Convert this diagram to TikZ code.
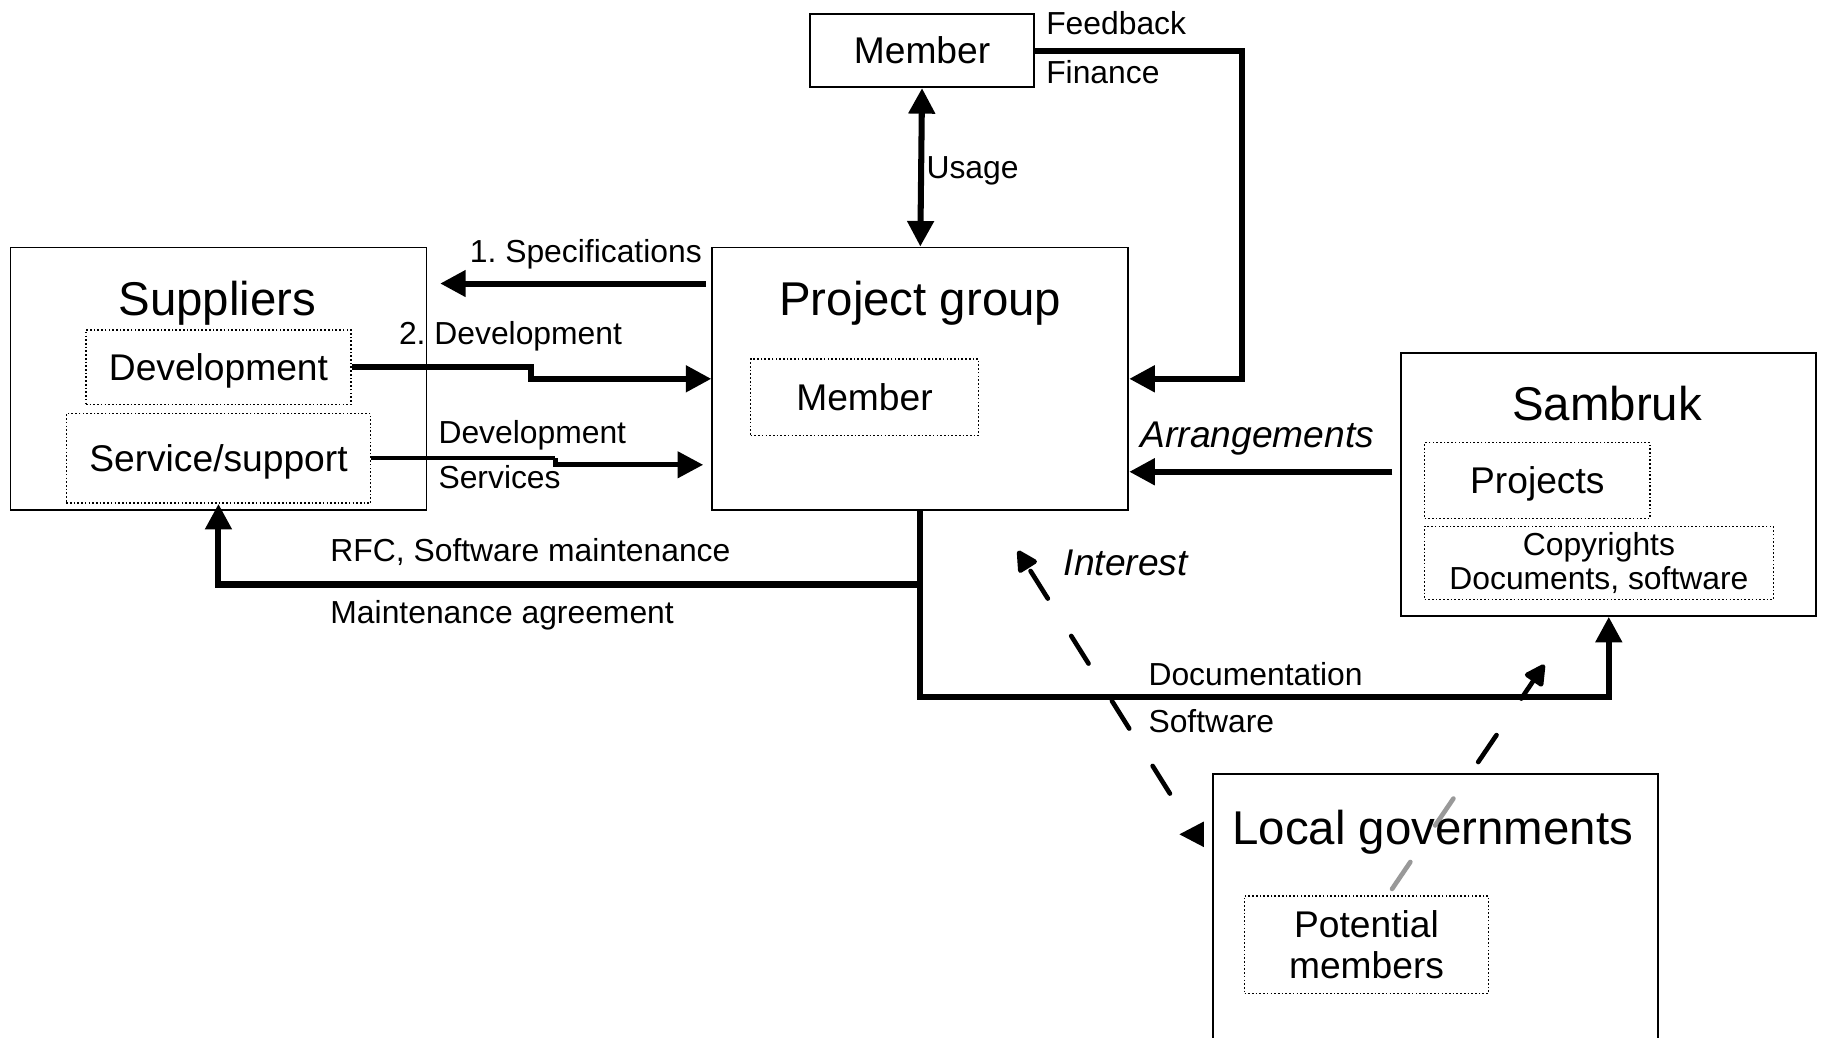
\documentclass[tikz,border=0pt]{standalone}
\usepackage{fontspec}
\setmainfont{Liberation Sans}
\usetikzlibrary{arrows.meta,backgrounds}
\frenchspacing

\newcommand\titlefont{\fontsize{20.4}{24}\selectfont}
\newcommand\boxfont{\fontsize{16}{19}\selectfont}
\newcommand\lblfont{\fontsize{13.7}{16}\selectfont}

\begin{document}
\begin{tikzpicture}[x=0.5pt, y=-0.5pt,
    >={Triangle[length=11pt,width=11pt]},
    box/.style={draw, line width=0.8pt, inner sep=0pt},
    dotframe/.style={draw, line width=0.6pt, dash pattern=on 0.7pt off 0.9pt, inner sep=0pt},
    dotbox/.style={dotframe, font=\boxfont, text height=11.5pt, text depth=0pt},
    title/.style={font=\titlefont, inner sep=0pt, text height=14.6pt, text depth=0pt},
    lbl/.style={font=\lblfont, anchor=west, inner sep=0pt, text height=9.8pt, text depth=0pt},
    flow/.style={line width=2.6pt, ->},
    hint/.style={line width=2pt, line cap=round, dash pattern=on 14pt off 19pt,
                 -{Triangle[length=10pt,width=10pt,round]}}]

    \useasboundingbox (0,0) rectangle (1568,893);
    \clip (0,0) rectangle (1568,893);

    % Member on top
    \node[box, font=\boxfont, text height=11.5pt, text depth=0pt,
          minimum width=96.5pt, minimum height=31.5pt] (member) at (793.5,43.5) {Member};

    % Project group
    \node[box, minimum width=179pt, minimum height=113pt] (pg) at (792,326) {};
    \node[title] (pgt) at (792,257) {Project group};
    \node[dotbox, minimum width=98pt, minimum height=33pt] (pgmem) at (744,342) {Member};

    % Suppliers
    \node[box, minimum width=179pt, minimum height=113pt] (sup) at (188,326) {};
    \node[title] (supt) at (187,257) {Suppliers};
    \node[dotbox, minimum width=114pt, minimum height=32pt] (supdev) at (188,316) {Development};
    \node[dotbox, minimum width=131pt, minimum height=38.5pt] (supserv) at (188,394.5) {Service/support};

    % Sambruk
    \node[box, minimum width=178.5pt, minimum height=113pt] (sam) at (1384.5,417) {};
    \node[title] (samt) at (1383,347) {Sambruk};
    \node[dotbox, minimum width=97pt, minimum height=32.5pt] (samproj) at (1323,413.5) {Projects};
    \node[dotframe, font=\fontsize{13.7}{15}\selectfont, align=center,
          minimum width=150pt, minimum height=31.5pt] (samcopy) at (1376,484.5) {Copyrights\\Documents, software};

    % Local governments
    \node[box, fill=white, fill opacity=0.6, minimum width=191.5pt, minimum height=125pt] (lg) at (1235.5,791) {};
    \node[title] (lgt) at (1233,712) {Local governments};
    \node[dotframe, font=\fontsize{16}{17.5}\selectfont, align=center,
          minimum width=105pt, minimum height=42pt] (lgpot) at (1176,813) {Potential\\members};

    % Usage
    \draw[flow, <->] (member.south) -- (pg.north);
    \node[lbl] (usage) at (797,144) {Usage};

    % Feedback and finance
    \coordinate (fbturn) at (1069,43.5);
    \draw[flow] (member.east) -- (fbturn) |- (pg.east);
    \node[lbl] (feedback) at (900,20) {Feedback};
    \node[lbl] (finance) at (900,62) {Finance};

    % Specifications
    \coordinate (specy) at (0,244);
    \draw[flow, shorten <=2.5pt, shorten >=5.5pt] (pg.west |- specy) -- (sup.east |- specy);
    \node[lbl] (spec) at (404,216) {1. Specifications};

    % Development
    \coordinate (devstep) at (457,0);
    \draw[flow] (supdev.east) -- (supdev.east -| devstep) |- (pg.west);
    \node[lbl] (dev) at (343,287) {2. Development};

    % Development services
    \coordinate (servstep) at (478,0);
    \coordinate (servy) at (0,400);
    \draw[line width=1.8pt] (supserv.east) -- (supserv.east -| servstep);
    \draw[flow, line width=2.3pt, shorten >=3.5pt] (supserv.east -| servstep) |- (pg.west |- servy);
    \node[lbl] (devserv) at (377,372) {Development};
    \node[lbl] (serv) at (377,411) {Services};

    % Maintenance
    \coordinate (rfcy) at (0,503);
    \draw[flow] (pg.south) -- (pg.south |- rfcy) -| (supserv.south);
    \node[lbl] (rfc) at (284,473) {RFC, Software maintenance};
    \node[lbl] (agree) at (284,527) {Maintenance agreement};

    % Documentation
    \coordinate (docy) at (0,600);
    \draw[flow] (pg.south |- rfcy) -- (pg.south |- docy) -| (sam.south);
    \node[lbl] (doc) at (988,580) {Documentation};
    \node[lbl] (soft) at (988,621) {Software};

    % Arrangements
    \coordinate (arry) at (0,406);
    \draw[flow, shorten <=3.5pt] (sam.west |- arry) -- (pg.east |- arry);
    \node[font=\boxfont\itshape, inner sep=0pt, text height=11.5pt, text depth=0pt] (arr) at (1082,374) {Arrangements};

    % Interest
    \coordinate (intlow) at (1010,688);
    \coordinate (inttop) at (876,474);
    \draw[hint, dash phase=30pt] (intlow) -- (inttop);
    \node[font=\boxfont\itshape, anchor=west, inner sep=0pt, text height=11.5pt, text depth=0pt] (interest) at (915,484) {Interest};
    \coordinate (lgtip) at (1036,718);
    \fill (lgtip) ++(0,-11) -- ++(0,22) -- ++(-21,-11) -- cycle;

    % Potential members to Sambruk
    \coordinate (pmtop) at (1198,765);
    \coordinate (pmend) at (1329,572);
    \begin{scope}[on background layer]
        \draw[hint] (pmtop) -- (pmend);
    \end{scope}

\end{tikzpicture}
\end{document}
